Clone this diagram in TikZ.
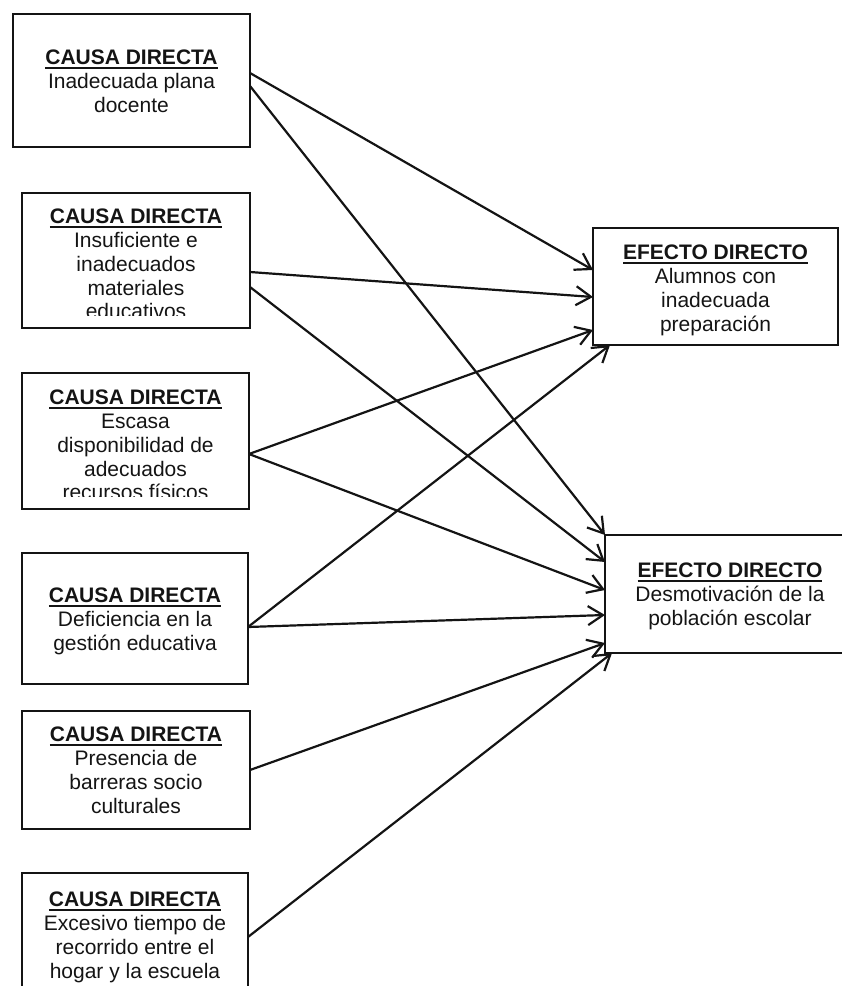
\documentclass[tikz,border=0pt]{standalone}
\usepackage{fontspec}
\setmainfont{Liberation Sans}
\usetikzlibrary{arrows.meta,calc}
\newcommand\mytitle[1]{\setbox0=\hbox{\bfseries #1}\rlap{\rule[-4pt]{\wd0}{1.8pt}}\box0}
\definecolor{ink}{RGB}{20,20,20}
\begin{document}
\begin{tikzpicture}[x=1pt,y=-1pt,
  box/.style={draw=ink,line width=2.6pt,rectangle,inner sep=0pt,outer sep=0pt,anchor=north west},
  txt/.style={anchor=north,inner sep=0pt,outer sep=0pt,align=center,font=\fontsize{21}{23.8}\selectfont,text=ink},
  conn/.style={draw=ink,line width=2.2pt,-{Straight Barb[length=15pt,width=19pt]}}]
\useasboundingbox (0,0) rectangle (842,986);
\clip (0,0) rectangle (842,986);
% cause boxes
\node[box,minimum width=237pt,minimum height=133pt] (b1) at (13,14) {};
\node[box,minimum width=228pt,minimum height=135pt] (b2) at (22,193) {};
\node[box,minimum width=227pt,minimum height=136pt] (b3) at (22,373) {};
\node[box,minimum width=226pt,minimum height=131pt] (b4) at (22,553) {};
\node[box,minimum width=228pt,minimum height=118pt] (b5) at (22,711) {};
\node[box,minimum width=226pt,minimum height=140pt] (b6) at (22,873) {};
% effect boxes
\node[box,minimum width=245pt,minimum height=117pt] (e1) at (593,228) {};
\node[box,minimum width=250pt,minimum height=118pt] (e2) at (605,535) {};
% texts
\node[txt] (t1) at (131.5,50) {\mytitle{CAUSA DIRECTA}\\Inadecuada plana\\docente};
\begin{scope}
\clip (22,193) rectangle (250,315);
\node[txt] (t2) at (136,209) {\mytitle{CAUSA DIRECTA}\\Insuficiente e\\inadecuados\\materiales\\educativos};
\end{scope}
\begin{scope}
\clip (22,373) rectangle (249,496);
\node[txt] (t3) at (135.5,390) {\mytitle{CAUSA DIRECTA}\\Escasa\\disponibilidad de\\adecuados\\recursos físicos};
\end{scope}
\node[txt] (t4) at (135,588) {\mytitle{CAUSA DIRECTA}\\Deficiencia en la\\gestión educativa};
\node[txt] (t5) at (136,727) {\mytitle{CAUSA DIRECTA}\\Presencia de\\barreras socio\\culturales};
\node[txt] (t6) at (135,892) {\mytitle{CAUSA DIRECTA}\\Excesivo tiempo de\\recorrido entre el\\hogar y la escuela};
\node[txt] (te1) at (715.5,245) {\mytitle{EFECTO DIRECTO}\\Alumnos con\\inadecuada\\preparación};
\node[txt] (te2) at (730,563) {\mytitle{EFECTO DIRECTO}\\Desmotivación de la\\población escolar};
% connectors
\draw[conn] ($(b1.north east)+(0,59)$) -- ($(e1.north west)+(0,42)$);
\draw[conn] ($(b1.north east)+(0,72)$) -- ($(e2.north west)+(0,0)$);
\draw[conn] ($(b2.north east)+(0,79)$) -- ($(e1.north west)+(0,69)$);
\draw[conn] ($(b2.north east)+(0,94)$) -- ($(e2.north west)+(0,27)$);
\draw[conn] ($(b3.north east)+(0,81)$) -- ($(e1.north west)+(0,102)$);
\draw[conn] ($(b3.north east)+(0,81)$) -- ($(e2.north west)+(0,55)$);
\draw[conn] ($(b4.north east)+(0,74)$) -- ($(e1.south west)+(17,0)$);
\draw[conn] ($(b4.north east)+(0,74)$) -- ($(e2.north west)+(0,80)$);
\draw[conn] ($(b5.north east)+(0,59)$) -- ($(e2.north west)+(0,108)$);
\draw[conn] ($(b6.north east)+(0,64)$) -- ($(e2.south west)+(7,0)$);
\end{tikzpicture}
\end{document}
